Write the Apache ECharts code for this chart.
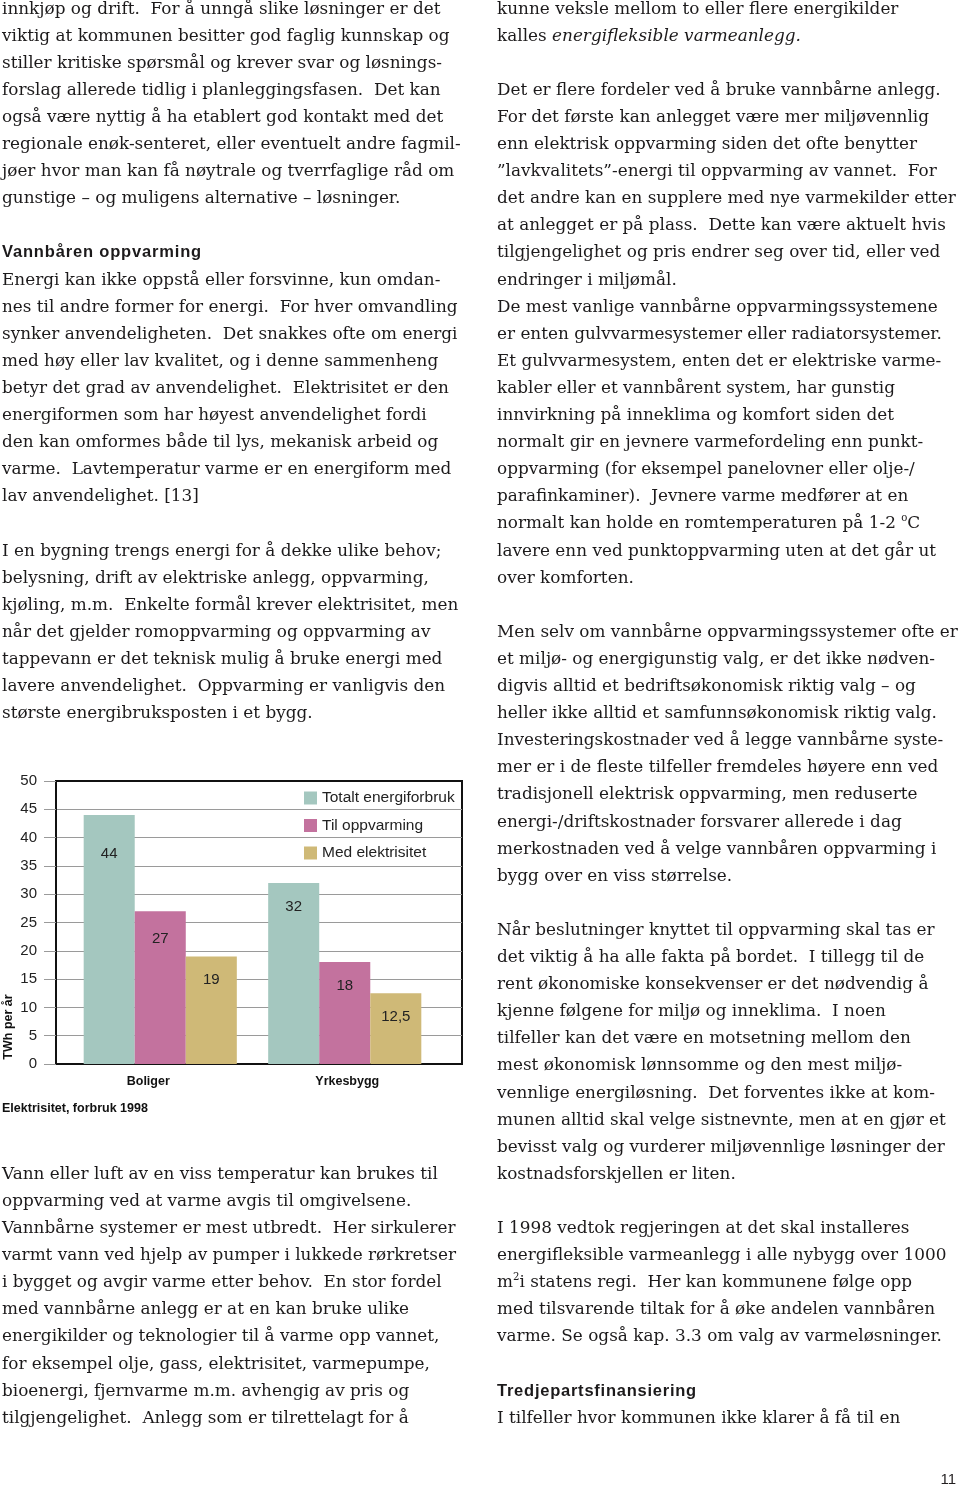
<!DOCTYPE html>
<html>
<head>
<meta charset="utf-8">
<script src="https://cdn.jsdelivr.net/npm/echarts@6/dist/echarts.min.js"></script>
<style>
  html, body { margin: 0; padding: 0; background: #fff; }
  #page { position: relative; width: 960px; height: 1488px; overflow: hidden; background: #fff; }
  #chart { position: absolute; left: 0; top: 0; width: 960px; height: 1488px; z-index: 1; }
  .ln { position: absolute; white-space: pre; color: #1c1a1b; font-family: "DejaVu Serif", serif; line-height: 27px; z-index: 2; }
  .hd { font-family: "Liberation Sans", Arial, sans-serif; font-weight: bold; font-size: 16.5px; }
  #pg { position: absolute; right: 4px; top: 1470px; font-family: "Liberation Sans", Arial, sans-serif; font-size: 15px; color: #231f20; z-index: 2; }
</style>
</head>
<body>
<div id="page">
  <div id="chart"></div>
  <div id="pg">11</div>
</div>
<script>
// ---------- chart data ----------
const categories = ['Boliger', 'Yrkesbygg'];
const seriesNames = ['Totalt energiforbruk', 'Til oppvarming', 'Med elektrisitet'];
const totaltEnergiforbruk = [44, 32];
const tilOppvarming = [27, 18];
const medElektrisitet = [19, 12.5];
const yMin = 0, yMax = 50, yStep = 5;
const chartTitle = 'Elektrisitet, forbruk 1998';
const yAxisName = 'TWh per år';

// ---------- page text ----------
const leftTop = [
  'innkjøp og drift.  For å unngå slike løsninger er det',
  'viktig at kommunen besitter god faglig kunnskap og',
  'stiller kritiske spørsmål og krever svar og løsnings-',
  'forslag allerede tidlig i planleggingsfasen.  Det kan',
  'også være nyttig å ha etablert god kontakt med det',
  'regionale enøk-senteret, eller eventuelt andre fagmil-',
  'jøer hvor man kan få nøytrale og tverrfaglige råd om',
  'gunstige – og muligens alternative – løsninger.',
  '',
  '#Vannbåren oppvarming',
  'Energi kan ikke oppstå eller forsvinne, kun omdan-',
  'nes til andre former for energi.  For hver omvandling',
  'synker anvendeligheten.  Det snakkes ofte om energi',
  'med høy eller lav kvalitet, og i denne sammenheng',
  'betyr det grad av anvendelighet.  Elektrisitet er den',
  'energiformen som har høyest anvendelighet fordi',
  'den kan omformes både til lys, mekanisk arbeid og',
  'varme.  Lavtemperatur varme er en energiform med',
  'lav anvendelighet. [13]',
  '',
  'I en bygning trengs energi for å dekke ulike behov;',
  'belysning, drift av elektriske anlegg, oppvarming,',
  'kjøling, m.m.  Enkelte formål krever elektrisitet, men',
  'når det gjelder romoppvarming og oppvarming av',
  'tappevann er det teknisk mulig å bruke energi med',
  'lavere anvendelighet.  Oppvarming er vanligvis den',
  'største energibruksposten i et bygg.'
];
const leftBottom = [
  'Vann eller luft av en viss temperatur kan brukes til',
  'oppvarming ved at varme avgis til omgivelsene.',
  'Vannbårne systemer er mest utbredt.  Her sirkulerer',
  'varmt vann ved hjelp av pumper i lukkede rørkretser',
  'i bygget og avgir varme etter behov.  En stor fordel',
  'med vannbårne anlegg er at en kan bruke ulike',
  'energikilder og teknologier til å varme opp vannet,',
  'for eksempel olje, gass, elektrisitet, varmepumpe,',
  'bioenergi, fjernvarme m.m. avhengig av pris og',
  'tilgjengelighet.  Anlegg som er tilrettelagt for å'
];
const rightCol = [
  'kunne veksle mellom to eller flere energikilder',
  'kalles <i>energifleksible varmeanlegg.</i>',
  '',
  'Det er flere fordeler ved å bruke vannbårne anlegg.',
  'For det første kan anlegget være mer miljøvennlig',
  'enn elektrisk oppvarming siden det ofte benytter',
  '”lavkvalitets”-energi til oppvarming av vannet.  For',
  'det andre kan en supplere med nye varmekilder etter',
  'at anlegget er på plass.  Dette kan være aktuelt hvis',
  'tilgjengelighet og pris endrer seg over tid, eller ved',
  'endringer i miljømål.',
  'De mest vanlige vannbårne oppvarmingssystemene',
  'er enten gulvvarmesystemer eller radiatorsystemer.',
  'Et gulvvarmesystem, enten det er elektriske varme-',
  'kabler eller et vannbårent system, har gunstig',
  'innvirkning på inneklima og komfort siden det',
  'normalt gir en jevnere varmefordeling enn punkt-',
  'oppvarming (for eksempel panelovner eller olje-/',
  'parafinkaminer).  Jevnere varme medfører at en',
  'normalt kan holde en romtemperaturen på 1-2 <sup style="font-size:0.6em;line-height:0">o</sup>C',
  'lavere enn ved punktoppvarming uten at det går ut',
  'over komforten.',
  '',
  'Men selv om vannbårne oppvarmingssystemer ofte er',
  'et miljø- og energigunstig valg, er det ikke nødven-',
  'digvis alltid et bedriftsøkonomisk riktig valg – og',
  'heller ikke alltid et samfunnsøkonomisk riktig valg.',
  'Investeringskostnader ved å legge vannbårne syste-',
  'mer er i de fleste tilfeller fremdeles høyere enn ved',
  'tradisjonell elektrisk oppvarming, men reduserte',
  'energi-/driftskostnader forsvarer allerede i dag',
  'merkostnaden ved å velge vannbåren oppvarming i',
  'bygg over en viss størrelse.',
  '',
  'Når beslutninger knyttet til oppvarming skal tas er',
  'det viktig å ha alle fakta på bordet.  I tillegg til de',
  'rent økonomiske konsekvenser er det nødvendig å',
  'kjenne følgene for miljø og inneklima.  I noen',
  'tilfeller kan det være en motsetning mellom den',
  'mest økonomisk lønnsomme og den mest miljø-',
  'vennlige energiløsning.  Det forventes ikke at kom-',
  'munen alltid skal velge sistnevnte, men at en gjør et',
  'bevisst valg og vurderer miljøvennlige løsninger der',
  'kostnadsforskjellen er liten.',
  '',
  'I 1998 vedtok regjeringen at det skal installeres',
  'energifleksible varmeanlegg i alle nybygg over 1000',
  'm<sup style="font-size:0.6em;line-height:0">2</sup>i statens regi.  Her kan kommunene følge opp',
  'med tilsvarende tiltak for å øke andelen vannbåren',
  'varme. Se også kap. 3.3 om valg av varmeløsninger.',
  '',
  '#Tredjepartsfinansiering',
  'I tilfeller hvor kommunen ikke klarer å få til en'
];

// ---------- text layout ----------
const LH = 27.1;
const firstCenter = 9;
const cv = document.createElement('canvas').getContext('2d');
function measure(t, font) { cv.font = font; return cv.measureText(t).width; }
const s1 = 100 * 439 / measure('innkjøp og drift.  For å unngå slike løsninger er det', '100px "DejaVu Serif"');
const s2 = 100 * 460 / measure('Men selv om vannbårne oppvarmingssystemer ofte er', '100px "DejaVu Serif"');
const bodySize = (s1 + s2) / 2;

const page = document.getElementById('page');
function placeLines(lines, x, startIdx) {
  lines.forEach((t, i) => {
    if (!t) return;
    const d = document.createElement('div');
    d.className = 'ln';
    d.style.left = x + 'px';
    const center = firstCenter + LH * (startIdx + i);
    d.style.top = (center - 13.5 - 1) + 'px';
    if (t[0] === '#') {
      const txt = t.slice(1);
      d.classList.add('hd');
      d.textContent = txt;
      const w = measure(txt, 'bold 16.5px "Liberation Sans"');
      d.style.letterSpacing = Math.max(0, (200 - w) / txt.length).toFixed(2) + 'px';
    } else {
      d.style.fontSize = bodySize.toFixed(2) + 'px';
      d.innerHTML = t;
    }
    page.appendChild(d);
  });
}
placeLines(leftTop, 2, 0);
placeLines(leftBottom, 2, 43);
placeLines(rightCol, 497, 0);

// ---------- chart ----------
const barColors = ['#a4c7bf', '#c3729e', '#cfb977'];
const labelDrop = [[15, 0], [4, 0], [0, 0]]; // extra downward label shift per series/category (style only)
const valuesBySeries = [totaltEnergiforbruk, tilOppvarming, medElektrisitet];

const chart = echarts.init(document.getElementById('chart'), null, { renderer: 'canvas' });
const option = {
  animation: false,
  backgroundColor: 'transparent',
  textStyle: { fontFamily: '"Liberation Sans", Arial, sans-serif' },
  title: {
    text: chartTitle, left: 2, top: 1102, padding: 0,
    textStyle: { fontSize: 12.5, fontWeight: 'bold', color: '#111' }
  },
  legend: {
    data: seriesNames, orient: 'vertical', left: 304, top: 790, padding: 0,
    icon: 'rect', itemWidth: 13, itemHeight: 13, itemGap: 11.5,
    textStyle: { fontSize: 15.5, color: '#222', lineHeight: 14 }
  },
  grid: [
    { left: 56, top: 781, width: 406, height: 283, show: true, borderColor: '#111', borderWidth: 2, backgroundColor: 'transparent' },
    { left: 68, top: 781, width: 369, height: 283 }
  ],
  xAxis: [
    { gridIndex: 0, type: 'category', data: categories,
      axisLine: { show: true, lineStyle: { color: '#111', width: 2 } },
      axisTick: { show: false }, axisLabel: { show: false }, splitLine: { show: false } },
    { gridIndex: 1, type: 'category', data: categories,
      axisLine: { show: false }, axisTick: { show: false }, splitLine: { show: false },
      axisLabel: {
        margin: 11, fontSize: 12.5, fontWeight: 'bold', color: '#111',
        formatter: v => (v === categories[0] ? '{a|' + v + '}' : '{b|' + v + '}'),
        rich: {
          a: { fontSize: 12.5, fontWeight: 'bold', color: '#111', padding: [0, 24, 0, 0] },
          b: { fontSize: 12.5, fontWeight: 'bold', color: '#111', padding: [0, 0, 0, 5] }
        }
      } }
  ],
  yAxis: [
    { gridIndex: 0, type: 'value', min: yMin, max: yMax, interval: yStep,
      axisLine: { show: true, lineStyle: { color: '#111', width: 2 } },
      axisTick: { show: true, length: 12, lineStyle: { color: '#9a9a9a' } },
      axisLabel: { margin: 19, fontSize: 15, color: '#222' },
      splitLine: { show: true, showMaxLine: false, lineStyle: { color: '#9a9a9a', width: 1 } } },
    { gridIndex: 1, type: 'value', min: yMin, max: yMax, interval: yStep, show: false,
      splitLine: { show: false } }
  ],
  series: seriesNames.map((name, si) => ({
    name, type: 'bar', xAxisIndex: 1, yAxisIndex: 1,
    barGap: '0%', barCategoryGap: '17%',
    itemStyle: { color: barColors[si] },
    data: valuesBySeries[si].map((v, ci) => ({
      value: v,
      label: { offset: [0, labelDrop[si][ci]] }
    })),
    label: {
      show: true, position: 'insideTop', distance: 16,
      fontSize: 15, color: '#222',
      formatter: p => String(p.value).replace('.', ',')
    }
  })),
  graphic: [{
    type: 'text', x: 9, y: 1027, rotation: Math.PI / 2,
    style: { text: yAxisName, font: 'bold 12.5px "Liberation Sans", Arial, sans-serif', fill: '#111', textAlign: 'center', textVerticalAlign: 'middle' }
  }]
};
chart.setOption(option);
</script>
</body>
</html>
